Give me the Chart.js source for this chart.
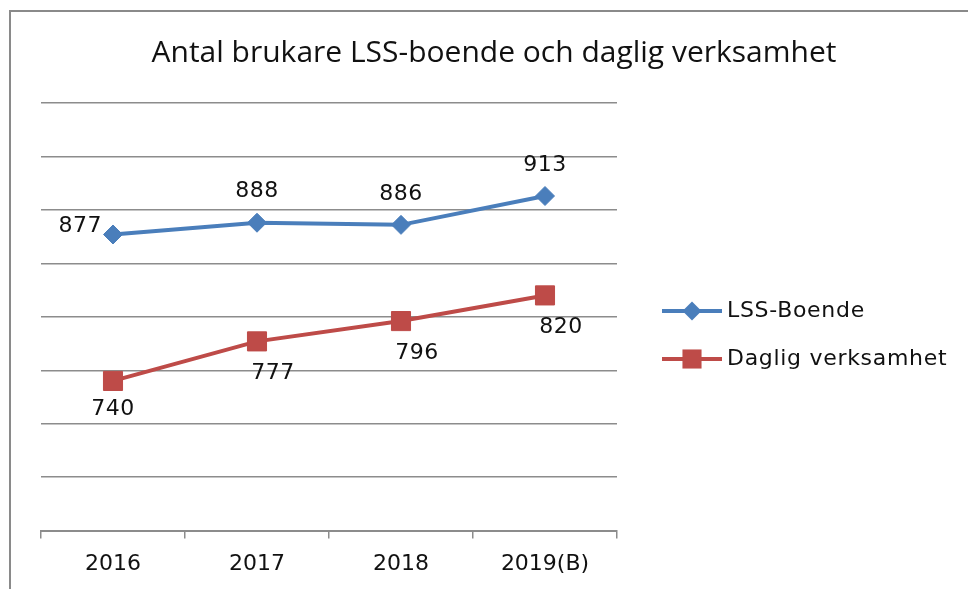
<!DOCTYPE html>
<html>
<head>
<meta charset="utf-8">
<script src="https://cdn.jsdelivr.net/npm/chart.js@4.4.0/dist/chart.umd.min.js"></script>
<style>
  html, body { margin: 0; padding: 0; background: #fff; overflow: hidden; }
  #frame { position: absolute; left: 9px; top: 10px; width: 1000px; height: 700px;
           border-left: 2px solid #8a8a8a; border-top: 2px solid #8a8a8a; }
  #box { position: absolute; left: 0; top: 0; width: 968px; height: 589px; }
</style>
</head>
<body>
<div id="frame"></div>
<div id="box"><canvas id="chart"></canvas></div>
<script>
const TITLE = 'Antal brukare LSS-boende och daglig verksamhet';
const YEARS = ['2016', '2017', '2018', '2019(B)'];
const LSS_BOENDE = [877, 888, 886, 913];
const DAGLIG_VERKSAMHET = [740, 777, 796, 820];
const Y_MIN = 600, Y_MAX = 1000, Y_STEP = 50;
// where each value label sits relative to its point
const LSS_LABEL_POS = ['left', 'above', 'above', 'above'];
const DAGLIG_LABEL_POS = ['below', 'belowRight', 'belowRight', 'belowRight'];

const BLUE = '#4a7ebb';
const RED = '#be4b48';
const GRID = '#8c8c8c';
const TEXT = '#111';

function drawMarker(ctx, style, x, y, r, color) {
    ctx.fillStyle = color;
    ctx.beginPath();
    if (style === 'rectRot') {
        ctx.moveTo(x - r, y); ctx.lineTo(x, y - r); ctx.lineTo(x + r, y); ctx.lineTo(x, y + r);
    } else {
        let s = r * Math.SQRT1_2;
        ctx.rect(x - s, y - s, 2 * s, 2 * s);
    }
    ctx.closePath();
    ctx.fill();
}

const extras = {
    id: 'extras',
    afterDatasetsDraw(chart) {
        const ctx = chart.ctx;
        ctx.save();

        // title
        ctx.font = '30px "Open Sans"';
        ctx.fillStyle = TEXT;
        ctx.textAlign = 'center';
        ctx.textBaseline = 'alphabetic';
        ctx.fillText(TITLE, 494, 62);

        // value labels
        ctx.font = '22px "DejaVu Sans"';
        ctx.letterSpacing = '0.5px';
        chart.data.datasets.forEach((ds, di) => {
            let meta = chart.getDatasetMeta(di);
            meta.data.forEach((pt, i) => {
                let pos = ds.labelPos[i];
                let x = pt.x, y = pt.y;
                ctx.textAlign = 'center';
                ctx.textBaseline = 'middle';
                if (pos === 'left') { ctx.textAlign = 'right'; x -= 11; y -= 8; }
                else if (pos === 'above') { y -= 31; }
                else if (pos === 'below') { y += 28; }
                else if (pos === 'belowRight') { x += 16; y += 32; }
                ctx.fillText(String(ds.data[i]), x, y);
            });
        });

        // legend
        chart.data.datasets.forEach((ds, di) => {
            let y = 311 + di * 48;
            ctx.strokeStyle = ds.borderColor;
            ctx.lineWidth = 4;
            ctx.beginPath();
            ctx.moveTo(662, y);
            ctx.lineTo(722, y);
            ctx.stroke();
            drawMarker(ctx, ds.pointStyle, 692, y, ds.pointRadius, ds.borderColor);
            ctx.fillStyle = TEXT;
            ctx.textAlign = 'left';
            ctx.textBaseline = 'middle';
            ctx.letterSpacing = '0.7px';
            ctx.fillText(ds.label, 727, y);
        });

        ctx.restore();
    }
};

new Chart(document.getElementById('chart'), {
    type: 'line',
    data: {
        labels: YEARS,
        datasets: [{
            label: 'LSS-Boende',
            data: LSS_BOENDE,
            labelPos: LSS_LABEL_POS,
            borderColor: BLUE,
            backgroundColor: BLUE,
            borderWidth: 4,
            pointStyle: 'rectRot',
            pointRadius: 9.5,
            pointHoverRadius: 9.5,
            pointBorderWidth: 1,
            tension: 0
        }, {
            label: 'Daglig verksamhet',
            data: DAGLIG_VERKSAMHET,
            labelPos: DAGLIG_LABEL_POS,
            borderColor: RED,
            backgroundColor: RED,
            borderWidth: 4,
            pointStyle: 'rect',
            pointRadius: 13.5,
            pointHoverRadius: 13.5,
            pointBorderWidth: 1,
            tension: 0
        }]
    },
    options: {
        responsive: true,
        maintainAspectRatio: false,
        animation: false,
        layout: { padding: { left: 41, right: 351, top: 103, bottom: 0 } },
        plugins: {
            legend: { display: false },
            title: { display: false },
            tooltip: { enabled: false }
        },
        scales: {
            x: {
                offset: true,
                grid: { offset: true, drawOnChartArea: false, color: GRID, lineWidth: 1.5, tickLength: 8 },
                border: { color: GRID, width: 2 },
                ticks: { color: TEXT, padding: 12, font: { family: 'DejaVu Sans', size: 22 } }
            },
            y: {
                min: Y_MIN,
                max: Y_MAX,
                ticks: { display: false, stepSize: Y_STEP },
                grid: { color: GRID, lineWidth: 1.5, drawTicks: false },
                border: { display: false }
            }
        }
    },
    plugins: [extras]
});
</script>
</body>
</html>
